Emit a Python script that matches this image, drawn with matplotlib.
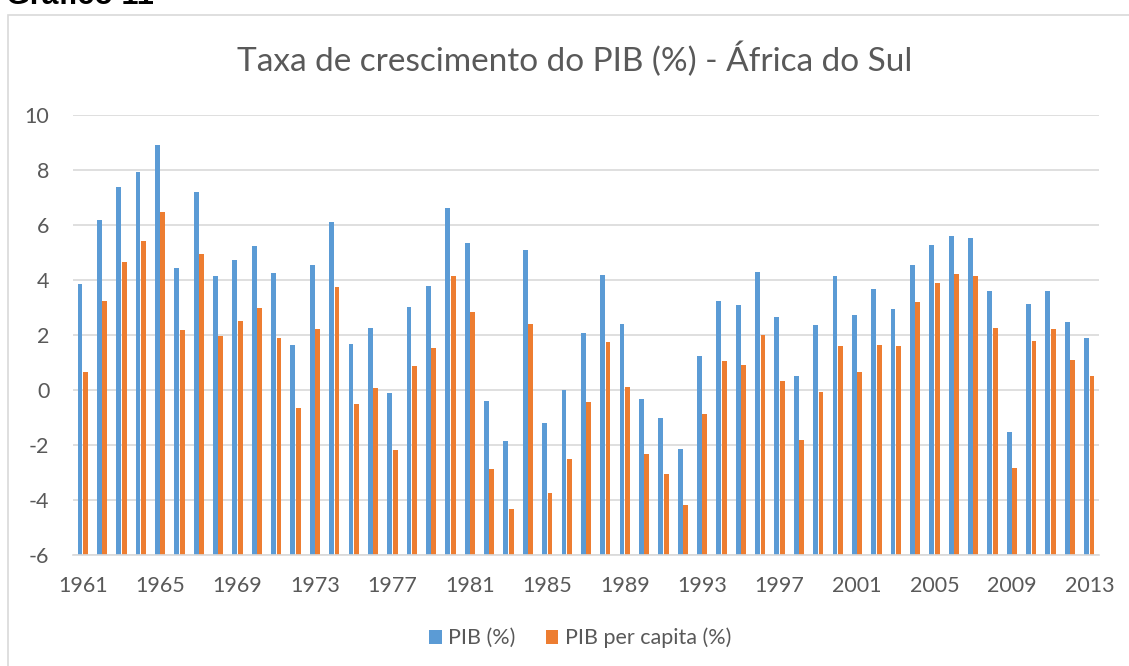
import numpy as np
import matplotlib.pyplot as plt
from matplotlib.patches import Rectangle

# data
years = list(range(1961, 2014))
pib = [3.84, 6.17, 7.37, 7.94, 8.90, 4.44, 7.19, 4.15, 4.72, 5.24,
       4.27, 1.65, 4.56, 6.10, 1.68, 2.24, -0.10, 3.01, 3.78, 6.61,
       5.35, -0.39, -1.85, 5.10, -1.21, 0.01, 2.08, 4.18, 2.39, -0.33,
       -1.03, -2.15, 1.22, 3.22, 3.10, 4.30, 2.64, 0.51, 2.35, 4.13,
       2.74, 3.66, 2.93, 4.56, 5.27, 5.59, 5.54, 3.61, -1.53, 3.13,
       3.59, 2.46, 1.88]
pib_pc = [0.64, 3.25, 4.67, 5.41, 6.47, 2.19, 4.93, 1.96, 2.50, 2.98,
          1.90, -0.65, 2.23, 3.76, -0.52, 0.06, -2.18, 0.86, 1.54, 4.16,
          2.82, -2.86, -4.34, 2.40, -3.76, -2.52, -0.42, 1.73, 0.12, -2.34,
          -3.04, -4.17, -0.88, 1.04, 0.90, 2.00, 0.32, -1.83, -0.08, 1.60,
          0.64, 1.62, 1.61, 3.19, 3.90, 4.23, 4.16, 2.25, -2.84, 1.77,
          2.22, 1.09, 0.52]
ymin, ymax = -6, 10

blue = '#5B9BD5'
orange = '#ED7D31'
grid_c = '#D9D9D9'
txt_c = '#595959'

plt.rcParams['font.family'] = ['Lato', 'DejaVu Sans']
plt.rcParams['axes.unicode_minus'] = False

W, H = 1129, 666
fig = plt.figure(figsize=(W / 100, H / 100), dpi=100)

# chart border (runs off the right and bottom of the picture)
fig.patches.append(Rectangle((7.5 / W, -0.1), 1.2, 1 - 14.5 / H + 0.1,
                             transform=fig.transFigure, fill=False,
                             edgecolor=grid_c, linewidth=1.2))

# page caption, cut off at the top edge as in the original
fig.text(6 / W, 1 - 4 / H, 'Gráfico 11', fontsize=22, fontweight='bold',
         family='Liberation Sans', color='black', va='baseline', ha='left')

ax = fig.add_axes([73 / W, 1 - 555 / H, (1099 - 73) / W, (555 - 115) / H])

x = np.arange(len(years))
w = 0.25
# bars rise from the bottom of the axis (-6), as in the original
ax.bar(x - 0.14, np.array(pib) - ymin, w, bottom=ymin, color=blue,
       label='PIB (%)', zorder=3)
ax.bar(x + 0.14, np.array(pib_pc) - ymin, w, bottom=ymin, color=orange,
       label='PIB per capita (%)', zorder=3)

ax.set_ylim(ymin, ymax)
ax.set_xlim(-0.5, len(years) - 0.5)
yt = list(range(ymin, ymax + 1, 2))
ax.set_yticks(yt)
ax.set_yticklabels([str(v) for v in yt])
ax.set_xticks(x[::4])
ax.set_xticklabels([str(y) for y in years[::4]])
ax.grid(axis='y', color=grid_c, linewidth=1.2, zorder=0)
ax.tick_params(length=0, labelsize=15.5, colors=txt_c)
ax.tick_params(axis='y', pad=17)
ax.tick_params(axis='x', pad=15)
for s in ['top', 'right', 'left']:
    ax.spines[s].set_visible(False)
ax.spines['bottom'].set_color(grid_c)
ax.spines['bottom'].set_linewidth(1.2)
ax.spines['bottom'].set_zorder(4)

fig.text(575 / W, 1 - 71 / H, 'Taxa de crescimento do PIB (%) - África do Sul',
         fontsize=24, color=txt_c, ha='center', va='baseline')

fig.legend(loc='center', bbox_to_anchor=(580 / W, 1 - 638 / H), ncol=2,
           frameon=False, fontsize=15.5, labelcolor=txt_c, handlelength=0.6,
           handleheight=0.6, handletextpad=0.3, columnspacing=1.4)

fig.savefig('out.png', dpi=100)
